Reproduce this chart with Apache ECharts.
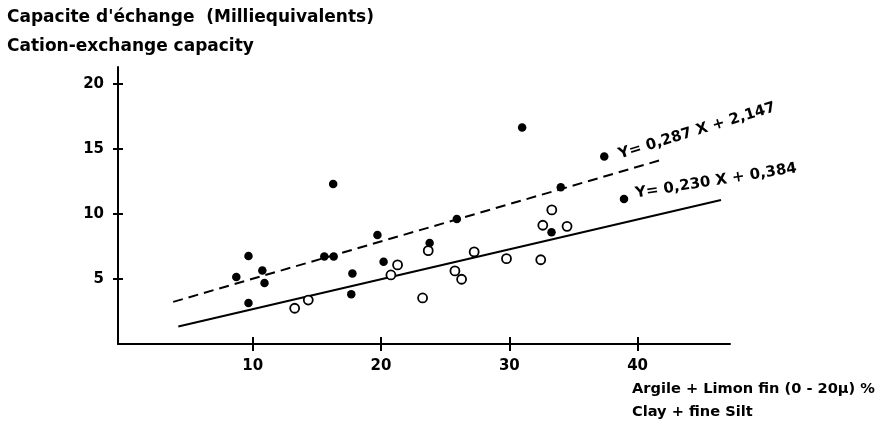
<!DOCTYPE html>
<html><head><meta charset="utf-8">
<script src="https://cdn.jsdelivr.net/npm/echarts@6/dist/echarts.min.js"></script>
<style>html,body{margin:0;padding:0;background:#fff}#c{width:884px;height:433px}</style>
</head><body><div id="c"></div>
<script>
// Filled circles (solid dots)
const filledX = [9.67, 8.72, 9.67, 10.75, 10.92, 15.58, 16.31, 16.27, 17.77, 17.68, 19.72, 20.2, 23.79, 25.91, 31.0, 33.29, 34.01, 37.4, 38.94];
const filledY = [6.77, 5.15, 3.15, 5.65, 4.69, 6.73, 6.73, 12.31, 5.42, 3.82, 8.38, 6.33, 7.77, 9.62, 16.64, 8.59, 12.05, 14.41, 11.15];
// Open circles
const openX = [13.27, 14.33, 23.24, 20.77, 21.29, 23.68, 25.76, 26.28, 27.26, 29.78, 32.45, 32.61, 33.31, 34.5];
const openY = [2.75, 3.38, 3.54, 5.31, 6.08, 7.18, 5.62, 4.98, 7.08, 6.56, 6.48, 9.13, 10.31, 9.05];
// Regression lines (as printed on the chart)
const fitSlopes = [0.287, 0.230];
const fitIntercepts = [2.147, 0.384];
const fitXStart = [3.8, 4.2];
const fitXEnd = [42.0, 46.5];
const fitLabels = ['Y= 0,287 X + 2,147', 'Y= 0,230 X + 0,384'];
// Ticks
const xTickValues = [10, 20, 30, 40];
const yTickValues = [5, 10, 15, 20];
// Titles
const yTitleLines = ["Capacite d'échange  (Milliequivalents)", 'Cation-exchange capacity'];
const xTitleLines = ['Argile + Limon fin (0 - 20µ) %', 'Clay + fine Silt'];

const FONT = 'DejaVu Sans';
const X_MIN = -0.5, X_MAX = 47.2, Y_MIN = 0, Y_MAX = 21.3;

const filledData = filledX.map((x, i) => [x, filledY[i]]);
const openData = openX.map((x, i) => [x, openY[i]]);
const fitData = fitSlopes.map((m, i) => [
  [fitXStart[i], m * fitXStart[i] + fitIntercepts[i]],
  [fitXEnd[i], m * fitXEnd[i] + fitIntercepts[i]]
]);

const tickStyle = {color: '#000', width: 2};
const chart = echarts.init(document.getElementById('c'), null, {renderer: 'canvas'});
chart.setOption({
  animation: false,
  backgroundColor: '#fff',
  grid: {left: 118, right: 154, top: 67, bottom: 89, containLabel: false},
  xAxis: [
    {type: 'value', min: X_MIN, max: X_MAX, position: 'bottom',
     axisLine: {onZero: false, lineStyle: {color: '#000', width: 2}},
     axisTick: {show: true, customValues: xTickValues, length: 7, lineStyle: tickStyle},
     axisLabel: {customValues: xTickValues, margin: 15, color: '#000', fontFamily: FONT, fontWeight: 'bold', fontSize: 15},
     splitLine: {show: false}},
    {type: 'value', min: X_MIN, max: X_MAX, position: 'bottom', offset: 0,
     axisLine: {show: false, onZero: false},
     axisTick: {show: true, inside: true, customValues: xTickValues, length: 7, lineStyle: tickStyle},
     axisLabel: {show: false}, splitLine: {show: false}}
  ],
  yAxis: [
    {type: 'value', min: Y_MIN, max: Y_MAX, position: 'left',
     axisLine: {show: true, onZero: false, lineStyle: {color: '#000', width: 2}},
     axisTick: {show: true, customValues: yTickValues, length: 5, lineStyle: tickStyle},
     axisLabel: {customValues: yTickValues, margin: 14, color: '#000', fontFamily: FONT, fontWeight: 'bold', fontSize: 15, padding: [0, 0, 7, 0]},
     splitLine: {show: false}},
    {type: 'value', min: Y_MIN, max: Y_MAX, position: 'left', offset: 0,
     axisLine: {show: false, onZero: false},
     axisTick: {show: true, inside: true, customValues: yTickValues, length: 5, lineStyle: tickStyle},
     axisLabel: {show: false}, splitLine: {show: false}}
  ],
  series: [
    {type: 'line', data: fitData[0], symbol: 'none', z: 2,
     lineStyle: {color: '#000', width: 2, type: [10, 6]}},
    {type: 'line', data: fitData[1], symbol: 'none', z: 2,
     lineStyle: {color: '#000', width: 2, type: 'solid'}},
    {type: 'scatter', data: openData, symbol: 'circle', symbolSize: 9, z: 3,
     itemStyle: {color: '#fff', borderColor: '#000', borderWidth: 1.8, opacity: 1}},
    {type: 'scatter', data: filledData, symbol: 'circle', symbolSize: 8.5, z: 4,
     itemStyle: {color: '#000', opacity: 1}}
  ],
  graphic: [
    {type: 'text', left: 7, top: 9, style: {text: yTitleLines[0], font: 'bold 17px "DejaVu Sans"', fill: '#000'}},
    {type: 'text', left: 7, top: 38, style: {text: yTitleLines[1], font: 'bold 17px "DejaVu Sans"', fill: '#000'}},
    {type: 'text', left: 632, top: 382, style: {text: xTitleLines[0], font: 'bold 14.6px "DejaVu Sans"', fill: '#000'}},
    {type: 'text', left: 632, top: 405, style: {text: xTitleLines[1], font: 'bold 14.6px "DejaVu Sans"', fill: '#000'}},
    {type: 'text', x: 697, y: 131, rotation: 17 * Math.PI / 180,
     style: {text: fitLabels[0], font: 'bold 15px "DejaVu Sans"', fill: '#000', align: 'center', verticalAlign: 'middle'}},
    {type: 'text', x: 716, y: 181, rotation: 9 * Math.PI / 180,
     style: {text: fitLabels[1], font: 'bold 15px "DejaVu Sans"', fill: '#000', align: 'center', verticalAlign: 'middle'}}
  ]
});
</script></body></html>
